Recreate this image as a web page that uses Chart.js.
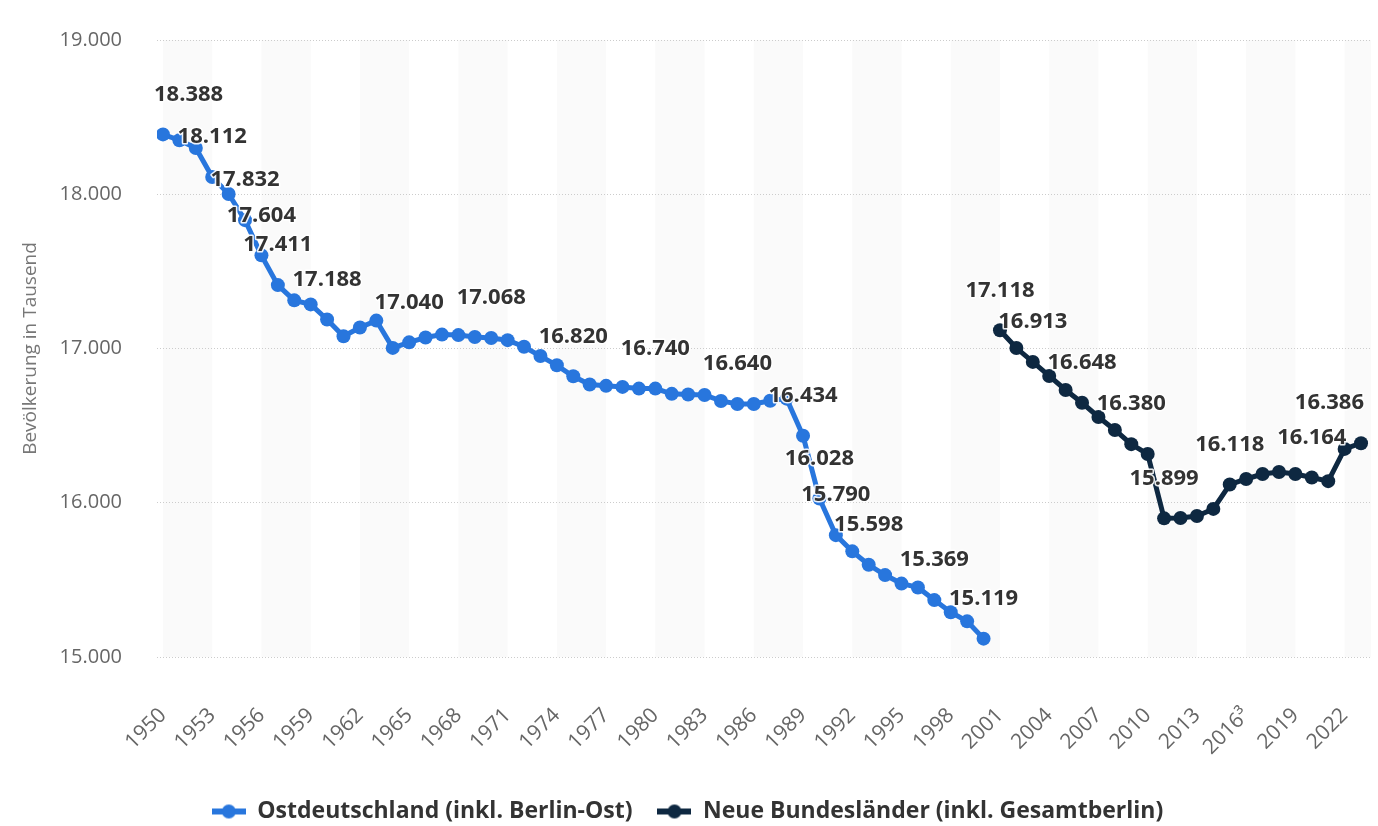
<!DOCTYPE html>
<html>
<head>
<meta charset="utf-8">
<script src="https://cdn.jsdelivr.net/npm/chart.js@4.4.1/dist/chart.umd.min.js"></script>
<style>
html,body{margin:0;padding:0;background:#fff;}
#wrap{width:1378px;height:826px;position:relative;}
</style>
</head>
<body>
<div id="wrap"><canvas id="c" width="1378" height="826"></canvas></div>
<script>
// ---- data ----
const years = ['1950','1951','1952','1953','1954','1955','1956','1957','1958','1959',
  '1960','1961','1962','1963','1964','1965','1966','1967','1968','1969',
  '1970','1971','1972','1973','1974','1975','1976','1977','1978','1979',
  '1980','1981','1982','1983','1984','1985','1986','1987','1988','1989',
  '1990','1991','1992','1993','1994','1995','1996','1997','1998','1999',
  '2000','2001','2002','2003','2004','2005','2006','2007','2008','2009',
  '2010','2011','2012','2013','2014','2015','2016³','2017','2018','2019',
  '2020','2021','2022','2023'];
const tickLabels = ['1950','1953','1956','1959','1962','1965','1968','1971','1974','1977',
  '1980','1983','1986','1989','1992','1995','1998','2001','2004','2007','2010','2013',
  '2016³','2019','2022'];
const yTicks = [15000, 16000, 17000, 18000, 19000];

const eastName = 'Ostdeutschland (inkl. Berlin-Ost)';
const eastStart = '1950';
const eastValues = [18388, 18350, 18300, 18112, 18002, 17832, 17604, 17411, 17312, 17286,
  17188, 17079, 17136, 17181, 17004, 17040, 17071, 17090, 17087, 17075,
  17068, 17054, 17011, 16951, 16891, 16820, 16767, 16758, 16751, 16740,
  16740, 16706, 16702, 16699, 16660, 16640, 16640, 16661, 16675, 16434,
  16028, 15790, 15685, 15598, 15531, 15476, 15451, 15369, 15290, 15231,
  15119];
const eastLabelYears = ['1950','1953','1955','1956','1957','1960','1965','1970','1975','1980',
  '1985','1989','1990','1991','1993','1997','2000'];

const neuName = 'Neue Bundesländer (inkl. Gesamtberlin)';
const neuStart = '2001';
const neuValues = [17118, 17003, 16913, 16822, 16731, 16648, 16556, 16472, 16380, 16316,
  15899, 15901, 15914, 15960, 16118, 16154, 16186, 16199, 16186, 16164,
  16140, 16349, 16386];
const neuLabelYears = ['2001','2003','2006','2009','2011','2015','2020','2023'];

const colors = ['#2876dd', '#0e2841'];
const FONT = '"Open Sans", "DejaVu Sans", sans-serif';

// ---- helpers ----
const fmt = v => String(v).replace(/\B(?=(\d{3})+(?!\d))/g, '.');
const toPoints = (start, vals) => {
  const s = years.indexOf(start);
  return vals.map((v, i) => ({x: s + i, y: v}));
};
const labelIdx = [
  eastLabelYears.map(y => years.indexOf(y) - years.indexOf(eastStart)),
  neuLabelYears.map(y => years.indexOf(y) - years.indexOf(neuStart))
];

function legendIcon(color) {
  const c = document.createElement('canvas');
  c.width = 34; c.height = 16;
  const g = c.getContext('2d');
  g.strokeStyle = color; g.lineWidth = 6;
  g.beginPath(); g.moveTo(0, 8); g.lineTo(34, 8); g.stroke();
  g.fillStyle = color;
  g.beginPath(); g.arc(17, 8, 7, 0, Math.PI * 2); g.fill();
  return c;
}
const icons = colors.map(legendIcon);

const zeroPad = s => { s.paddingLeft = 0; s.paddingRight = 0; s.paddingTop = 0; s.paddingBottom = 0; };

const bandPlugin = {
  id: 'bands',
  beforeDraw(chart) {
    const {ctx, chartArea: a, scales: {x}} = chart;
    ctx.save();
    ctx.beginPath();
    ctx.rect(a.left, a.top, a.right - a.left, a.bottom - a.top);
    ctx.clip();
    ctx.fillStyle = '#fafafa';
    for (let i = 0; i < years.length; i += 6) {
      const x0 = x.getPixelForValue(i), x1 = x.getPixelForValue(i + 3);
      ctx.fillRect(x0, a.top, x1 - x0, a.bottom - a.top);
    }
    ctx.restore();
  }
};

const labelPlugin = {
  id: 'vlabels',
  afterDatasetsDraw(chart) {
    const {ctx, chartArea: a} = chart;
    ctx.save();
    ctx.font = 'bold 22px ' + FONT;
    ctx.textAlign = 'center';
    ctx.textBaseline = 'middle';
    ctx.lineJoin = 'round';
    chart.data.datasets.forEach((ds, di) => {
      const meta = chart.getDatasetMeta(di);
      labelIdx[di].forEach(i => {
        const el = meta.data[i];
        const txt = fmt(ds.data[i].y);
        const w = ctx.measureText(txt).width;
        let cx = Math.max(a.left - 3 + w / 2, Math.min(a.right - 7 - w / 2, el.x));
        const cy = el.y - 40;
        ctx.strokeStyle = 'rgba(255,255,255,0.9)';
        ctx.lineWidth = 3;
        ctx.strokeText(txt, cx, cy);
        ctx.fillStyle = '#333333';
        ctx.fillText(txt, cx, cy);
      });
    });
    ctx.restore();
  }
};

new Chart(document.getElementById('c'), {
  type: 'line',
  data: {
    datasets: [
      {label: eastName, data: toPoints(eastStart, eastValues), borderColor: colors[0], backgroundColor: colors[0],
       borderWidth: 5, pointRadius: 7, pointBorderWidth: 0, tension: 0},
      {label: neuName, data: toPoints(neuStart, neuValues), borderColor: colors[1], backgroundColor: colors[1],
       borderWidth: 5, pointRadius: 7, pointBorderWidth: 0, tension: 0}
    ]
  },
  options: {
    responsive: false,
    animation: false,
    events: [],
    layout: {padding: {top: 40, right: 3, left: 0, bottom: -7}},
    scales: {
      x: {
        type: 'linear',
        min: -0.364,
        max: 73.607,
        grid: {display: false, drawTicks: false},
        border: {display: false},
        afterBuildTicks: s => { s.ticks = tickLabels.map(t => ({value: years.indexOf(t)})); },
        afterFit: s => { s.height = 118; zeroPad(s); },
        ticks: {
          autoSkip: false, minRotation: 45, maxRotation: 45, padding: 46,
          color: '#666666', font: {family: FONT, size: 21},
          callback: v => years[v]
        }
      },
      y: {
        min: yTicks[0],
        max: yTicks[yTicks.length - 1],
        afterBuildTicks: s => { s.ticks = yTicks.map(v => ({value: v})); },
        afterFit: s => { s.width = 157; zeroPad(s); },
        grid: {color: '#cccccc', lineWidth: 1, drawTicks: false},
        border: {display: false, dash: [1, 2]},
        ticks: {padding: 35, color: '#666666', font: {family: FONT, size: 20}, callback: v => fmt(v)},
        title: {display: true, text: 'Bevölkerung in Tausend', color: '#777777',
                font: {family: FONT, size: 19}, padding: {top: 19, bottom: 0}}
      }
    },
    plugins: {
      tooltip: {enabled: false},
      legend: {
        position: 'bottom',
        labels: {
          usePointStyle: true, pointStyleWidth: 34, padding: 25,
          color: '#333333', font: {family: FONT, size: 23, weight: 'bold'},
          generateLabels(chart) {
            const items = Chart.defaults.plugins.legend.labels.generateLabels(chart);
            items.forEach((it, i) => { it.pointStyle = icons[i]; it.fontColor = '#333333'; });
            return items;
          }
        }
      }
    }
  },
  plugins: [bandPlugin, labelPlugin]
});
</script>
</body>
</html>
